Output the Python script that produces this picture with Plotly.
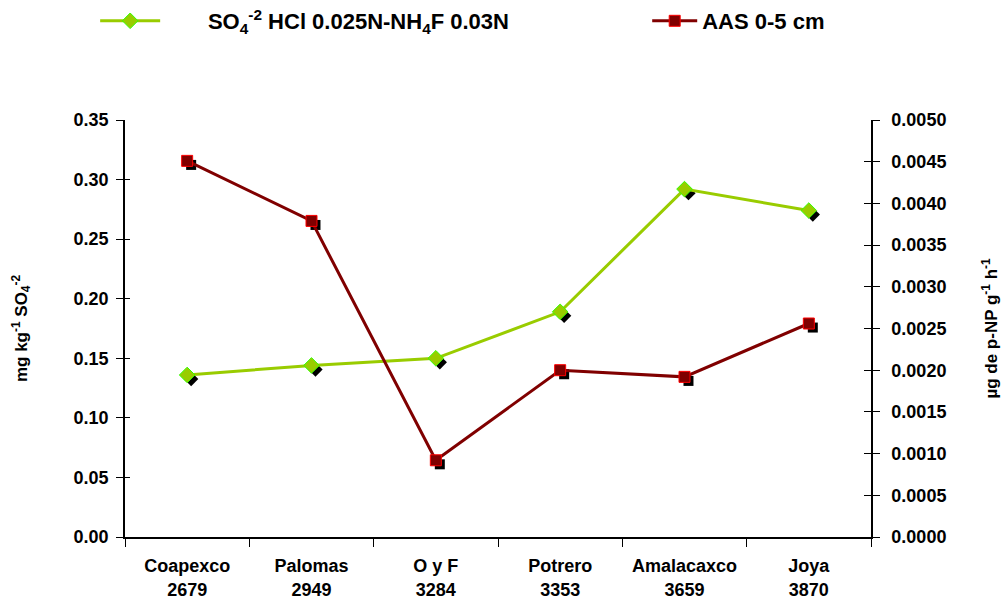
import plotly.graph_objects as go

# Sites (name + altitude)
sites = ["Coapexco<br>2679", "Palomas<br>2949", "O y F<br>3284",
         "Potrero<br>3353", "Amalacaxco<br>3659", "Joya<br>3870"]
# Sulfate (mg kg-1 SO4-2), left axis
sulfate = [0.136, 0.144, 0.150, 0.189, 0.292, 0.274]
# Arylsulfatase activity 0-5 cm (µg p-NP g-1 h-1), right axis
aas = [0.00451, 0.00379, 0.00092, 0.00200, 0.00192, 0.00256]

left_ticks = [0.00, 0.05, 0.10, 0.15, 0.20, 0.25, 0.30, 0.35]
right_ticks = [i * 0.0005 for i in range(11)]

GREEN_LINE = "#99cc00"
GREEN_EDGE = "#33ff00"
RED_LINE = "#800000"
RED_EDGE = "#ff0000"

# shadow offset in axis units (a few pixels down-right)
sx = 0.032
sy_left = 0.0034
sy_right = sy_left / 0.35 * 0.005

fig = go.Figure()

# drop shadows under markers (drawn on the hidden base axes)
fig.add_trace(go.Scatter(x=sites, y=sulfate, mode="markers", xaxis="x", yaxis="y",
                         marker=dict(symbol="diamond", size=11, color="black"),
                         showlegend=False, hoverinfo="skip"))
fig.add_trace(go.Scatter(x=sites, y=aas, mode="markers", xaxis="x", yaxis="y4",
                         marker=dict(symbol="square", size=10, color="black"),
                         showlegend=False, hoverinfo="skip"))

fig.add_trace(go.Scatter(
    x=sites, y=sulfate, mode="lines+markers", xaxis="x2", yaxis="y2",
    name="\u00a0\u00a0\u00a0\u00a0\u00a0\u00a0\u00a0SO<sub>4</sub><sup>-2</sup> HCl 0.025N-NH<sub>4</sub>F 0.03N",
    legend="legend",
    line=dict(color=GREEN_LINE, width=3),
    marker=dict(symbol="diamond", size=12, color=GREEN_LINE,
                line=dict(color=GREEN_EDGE, width=1))))
fig.add_trace(go.Scatter(
    x=sites, y=aas, mode="lines+markers", name="AAS 0-5 cm", xaxis="x2", yaxis="y3",
    legend="legend2",
    line=dict(color=RED_LINE, width=3),
    marker=dict(symbol="square", size=11, color=RED_LINE,
                line=dict(color=RED_EDGE, width=1))))
# carriers for the inner half of the crossing ticks on both value axes
fig.add_trace(go.Scatter(x=[None], y=[None], xaxis="x2", yaxis="y5",
                         showlegend=False, hoverinfo="skip"))
fig.add_trace(go.Scatter(x=[None], y=[None], xaxis="x2", yaxis="y6",
                         showlegend=False, hoverinfo="skip"))

tickfont = dict(family="Liberation Sans, Arial", size=18, color="black", weight="bold")
legfont = dict(family="Liberation Sans, Arial", size=22, color="black", weight="bold")
axis_common = dict(showline=True, linecolor="black", linewidth=1.5, ticks="outside",
                   tickcolor="black", showgrid=False, zeroline=False, automargin=False)

fig.update_layout(
    width=1008, height=607,
    margin=dict(l=125, r=137, t=120, b=70),
    paper_bgcolor="white", plot_bgcolor="white",
    font=dict(family="Liberation Sans, Arial", color="black"),
    showlegend=True,
    legend=dict(x=-0.04, xref="paper", y=1, yref="container", yanchor="top",
                xanchor="left", font=legfont, itemwidth=60, bgcolor="rgba(0,0,0,0)"),
    legend2=dict(x=0.70, xref="paper", y=1, yref="container", yanchor="top",
                 xanchor="left", font=legfont, itemwidth=45, bgcolor="rgba(0,0,0,0)"),
    # hidden base axes carrying the shadows
    xaxis=dict(type="category", range=[-0.5 - sx, 5.5 - sx], visible=False),
    yaxis=dict(range=[sy_left, 0.35 + sy_left], visible=False),
    yaxis4=dict(overlaying="y", range=[sy_right, 0.005 + sy_right], visible=False),
    # visible axes
    xaxis2=dict(type="category", overlaying="x", range=[-0.5, 5.5], side="bottom",
                tickson="boundaries", ticklen=8, ticklabelstandoff=12,
                tickfont=tickfont, **axis_common),
    yaxis2=dict(overlaying="y", side="left", range=[0, 0.35], tickvals=left_ticks,
                tickformat=".2f", ticklen=7, ticklabelstandoff=4, tickfont=tickfont,
                **axis_common,
                title=dict(text="mg kg<sup>-1</sup> SO<sub>4</sub><sup>-2</sup>",
                           font=dict(size=17, weight="bold"), standoff=42)),
    yaxis3=dict(overlaying="y", side="right", range=[0, 0.005], tickvals=right_ticks,
                tickformat=".4f", ticklen=7, ticklabelstandoff=8, tickfont=tickfont,
                **axis_common,
                title=dict(text="µg de p-NP g<sup>-1</sup> h<sup>-1</sup>",
                           font=dict(size=17, weight="bold"), standoff=40)),
    yaxis5=dict(overlaying="y", side="right", range=[0, 0.005], tickvals=right_ticks,
                ticks="inside", ticklen=7, tickcolor="black", showticklabels=False,
                showline=False, showgrid=False, zeroline=False),
    yaxis6=dict(overlaying="y", side="left", range=[0, 0.35], tickvals=left_ticks,
                ticks="inside", ticklen=5, tickcolor="black", showticklabels=False,
                showline=False, showgrid=False, zeroline=False),
)

fig.write_html("out.html")
